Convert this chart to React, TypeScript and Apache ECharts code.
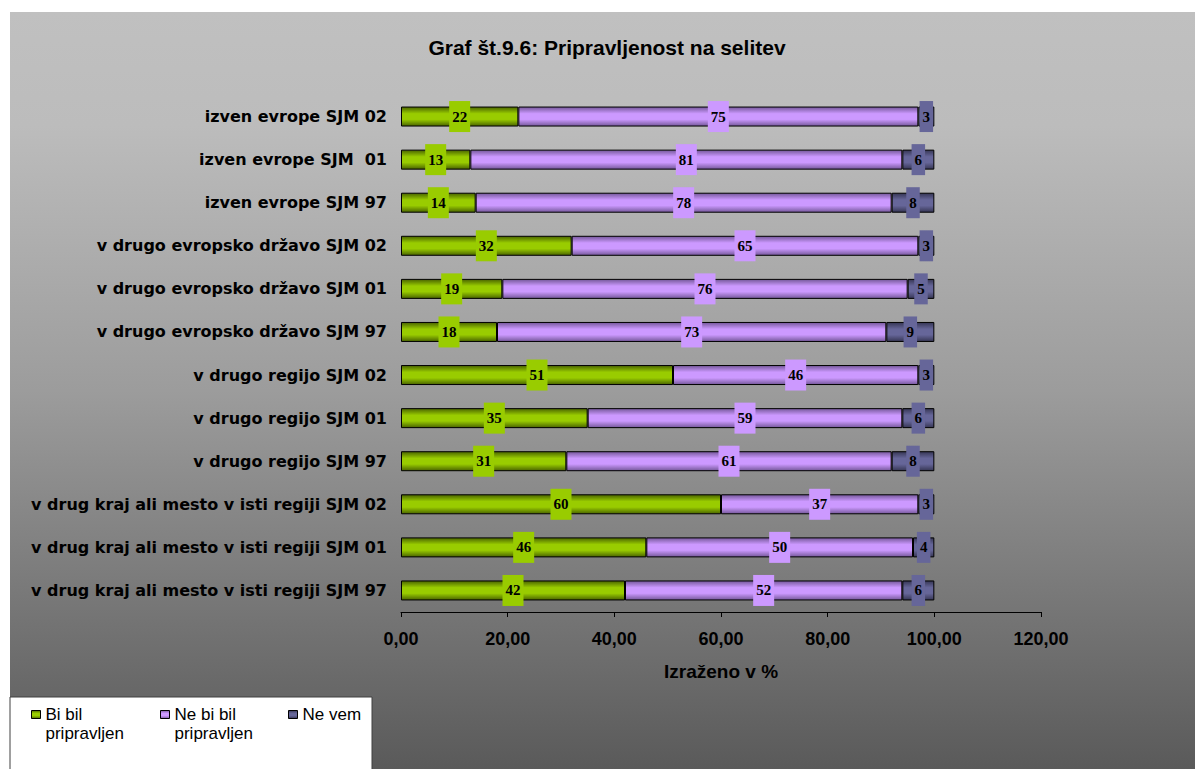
import React, { useEffect, useRef } from "react";
import * as echarts from "echarts";

const categories = [
  "izven evrope SJM 02",
  "izven evrope SJM  01",
  "izven evrope SJM 97",
  "v drugo evropsko državo SJM 02",
  "v drugo evropsko državo SJM 01",
  "v drugo evropsko državo SJM 97",
  "v drugo regijo SJM 02",
  "v drugo regijo SJM 01",
  "v drugo regijo SJM 97",
  "v drug kraj ali mesto v isti regiji SJM 02",
  "v drug kraj ali mesto v isti regiji SJM 01",
  "v drug kraj ali mesto v isti regiji SJM 97",
];
const biBil = [22, 13, 14, 32, 19, 18, 51, 35, 31, 60, 46, 42];
const neBiBil = [75, 81, 78, 65, 76, 73, 46, 59, 61, 37, 50, 52];
const neVem = [3, 6, 8, 3, 5, 9, 3, 6, 8, 3, 4, 6];
const seriesNames = ["Bi bil pripravljen", "Ne bi bil pripravljen", "Ne vem"];
const legendLabels = ["\nBi bil\npripravljen", "\nNe bi bil\npripravljen", "Ne vem"];
const xTicks = { min: 0, max: 120, interval: 20 };

const baseColors = ["#99cc00", "#cc99ff", "#666699"];
const edgeColors = ["#4a6400", "#75589a", "#363654"];

function grad(i: number) {
  return new echarts.graphic.LinearGradient(0, 0, 0, 1, [
    { offset: 0, color: edgeColors[i] },
    { offset: 0.35, color: baseColors[i] },
    { offset: 0.65, color: baseColors[i] },
    { offset: 1, color: edgeColors[i] },
  ]);
}

export default function App() {
  const ref = useRef<HTMLDivElement>(null);
  useEffect(() => {
    if (!ref.current) return;
    const chart = echarts.init(ref.current, undefined, { renderer: "svg" });
    const dataSets = [biBil, neBiBil, neVem];
    const sans = "Arial, 'Liberation Sans', sans-serif";
    const wide = "'DejaVu Sans', Verdana, sans-serif";
    const serif = "'Times New Roman', 'Liberation Serif', serif";
    chart.setOption({
      animation: false,
      backgroundColor: "#ffffff",
      title: {
        text: "Graf št.9.6: Pripravljenost na selitev",
        left: 607,
        textAlign: "center",
        top: 37,
        padding: 0,
        textStyle: { fontFamily: sans, fontWeight: "bold", fontSize: 21, color: "#000" },
      },
      graphic: [
        {
          type: "rect",
          z: -10,
          shape: { x: 10, y: 12, width: 1185, height: 757 },
          style: {
            fill: new echarts.graphic.LinearGradient(0, 0, 0, 1, [
              { offset: 0, color: "#c0c0c0" },
              { offset: 0.15, color: "#bcbcbc" },
              { offset: 0.5, color: "#9c9c9c" },
              { offset: 1, color: "#5a5a5a" },
            ]),
          },
        },
        {
          type: "rect",
          z: -5,
          shape: { x: 10, y: 697, width: 362, height: 80 },
          style: { fill: "#ffffff", stroke: "#404040", lineWidth: 1 },
        },
      ],
      legend: [0, 1, 2].map((i) => ({
        data: [seriesNames[i]],
        left: [31, 160, 288][i],
        top: i < 2 ? 686 : 705,
        padding: 0,
        itemWidth: 9,
        itemHeight: 8,
        itemGap: 4,
        icon: "rect",
        itemStyle: { borderColor: "#000", borderWidth: 1 },
        formatter: () => legendLabels[i],
        textStyle: {
          fontFamily: sans,
          fontSize: 17,
          color: "#000",
          lineHeight: 19,
        },
      })),
      grid: { left: 401, right: 154, top: 95, bottom: 157, containLabel: false },
      xAxis: {
        type: "value",
        min: xTicks.min,
        max: xTicks.max,
        interval: xTicks.interval,
        name: "Izraženo v %",
        nameLocation: "middle",
        nameGap: 50,
        nameTextStyle: { fontFamily: sans, fontWeight: "bold", fontSize: 19, color: "#000" },
        axisLine: { show: true, lineStyle: { color: "#000", width: 1 } },
        axisTick: { show: true, length: 5, lineStyle: { color: "#000" } },
        splitLine: { show: false },
        axisLabel: {
          margin: 18,
          fontFamily: sans,
          fontWeight: "bold",
          fontSize: 18,
          color: "#000",
          formatter: (v: number) => v.toFixed(2).replace(".", ","),
        },
      },
      yAxis: {
        type: "category",
        inverse: true,
        data: categories,
        axisLine: { show: false },
        axisTick: { show: false },
        axisLabel: {
          margin: 14,
          fontFamily: wide,
          fontWeight: "bold",
          fontSize: 16,
          color: "#000",
        },
      },
      series: dataSets.map((d, i) => ({
        name: seriesNames[i],
        type: "bar",
        stack: "total",
        barWidth: 20,
        data: d,
        itemStyle: { color: grad(i), borderColor: "#000", borderWidth: 1 },
        label: {
          show: true,
          position: "inside",
          formatter: "{c}",
          fontFamily: serif,
          fontWeight: "bold",
          fontSize: 15,
          lineHeight: 15,
          color: "#000",
          backgroundColor: baseColors[i],
          padding: [8, 3],
        },
        emphasis: { disabled: true },
      })),
      color: baseColors,
    });
    return () => chart.dispose();
  }, []);
  return (
    <div
      ref={ref}
      style={{ position: "absolute", left: 0, top: 0, width: 1195, height: 769 }}
    />
  );
}
